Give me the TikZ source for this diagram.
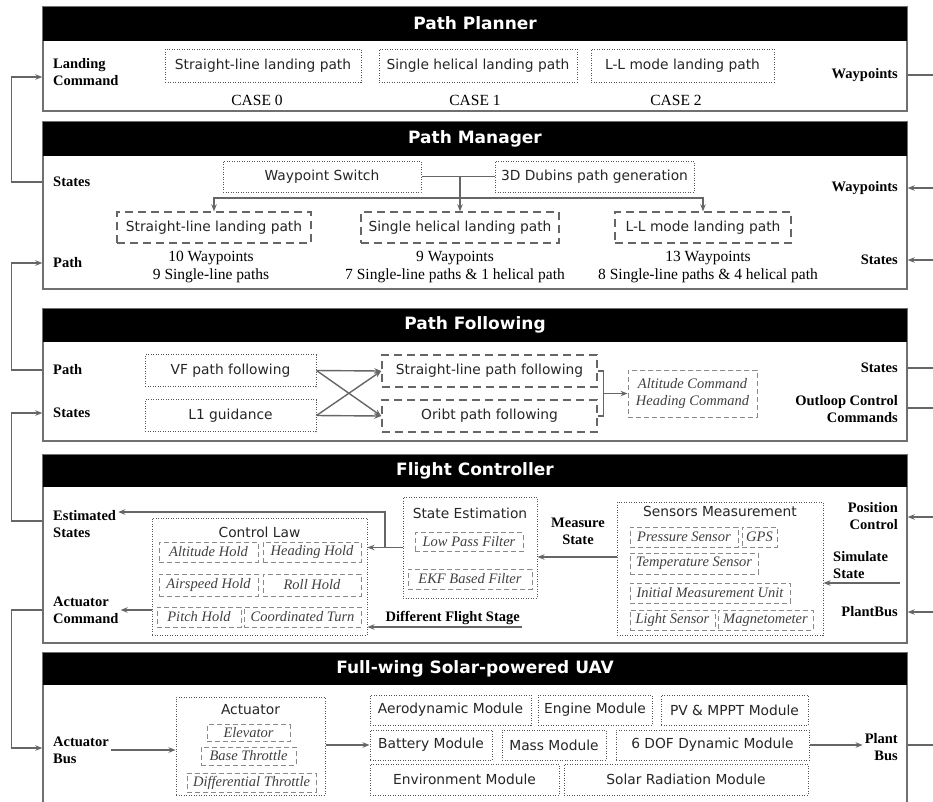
\documentclass[tikz,border=0pt]{standalone}
\usepackage{fontspec}
\usepackage{tikz}
\usetikzlibrary{arrows.meta}
\setmainfont{Liberation Serif}
\newfontfamily\sansf{DejaVu Sans}
\definecolor{framegray}{HTML}{707070}
\definecolor{conngray}{HTML}{666666}
\definecolor{dotgray}{HTML}{555555}
\definecolor{holdgray}{HTML}{8A8A8A}

\begin{document}
\begin{tikzpicture}[x=1pt,y=-1pt,>={Stealth[length=7pt,width=5.5pt]},
  panel/.style={draw=framegray,line width=1.4pt,inner sep=0pt,minimum width=864pt},
  bar/.style={fill=black,text=white,inner sep=0pt,minimum width=864pt,minimum height=34pt,font=\sansf\bfseries\fontsize{17}{20}\selectfont},
  dotbox/.style={draw=dotgray,line width=1pt,dash pattern=on 1pt off 1.5pt,inner sep=0pt,minimum height=31pt,text=black!85,font=\sansf\fontsize{13.8}{16}\selectfont},
  dashbox/.style={draw=conngray,line width=1.4pt,dash pattern=on 8pt off 5pt,inner sep=0pt,minimum height=31pt,text=black!85,font=\sansf\fontsize{13.8}{16}\selectfont},
  holdbox/.style={draw=holdgray,line width=1pt,dash pattern=on 5pt off 3pt,inner sep=0pt,minimum height=20pt,text=black!75,font=\itshape\fontsize{14.5}{17}\selectfont},
  boxtitle/.style={inner sep=0pt,text=black!85,font=\sansf\fontsize{13.8}{16}\selectfont},
  lbl/.style={inner sep=2pt,font=\bfseries\fontsize{14.5}{17}\selectfont},
  note/.style={inner sep=0pt,font=\fontsize{15.5}{18}\selectfont},
  conn/.style={draw=conngray,line width=1.4pt}]
\useasboundingbox (0,0) rectangle (933,801);
\clip (0,0) rectangle (933,801);

\node[panel,minimum height=104pt] (pp) at (475,59) {};
\node[bar,anchor=north] (pphead) at (pp.north) {Path Planner};
\node[lbl,anchor=west,align=left] (ppland) at (51,72.5) {Landing\\Command};
\node[lbl,anchor=east] (ppwp) at (900,75) {Waypoints};
\node[dotbox,minimum width=196pt,minimum height=33pt] (pp0) at (263,65.5) {Straight-line landing path};
\node[dotbox,minimum width=198pt,minimum height=33pt] (pp1) at (478,65.5) {Single helical landing path};
\node[dotbox,minimum width=183pt,minimum height=33pt] (pp2) at (682.5,65.5) {L-L mode landing path};
\node[note] (case0) at (257,100) {CASE 0};
\node[note] (case1) at (475,100) {CASE 1};
\node[note] (case2) at (676,100) {CASE 2};

\node[panel,minimum height=167pt] (pm) at (475,205.5) {};
\node[bar,anchor=north] (pmhead) at (pm.north) {Path Manager};
\node[lbl,anchor=west] (pmst) at (51,182) {States};
\node[lbl,anchor=west] (pmpath) at (51,263) {Path};
\node[lbl,anchor=east] (pmwp) at (900,188) {Waypoints};
\node[lbl,anchor=east] (pmst2) at (900,260) {States};
\node[dotbox,minimum width=198pt] (pmsw) at (322,176.5) {Waypoint Switch};
\node[dotbox,minimum width=199pt] (pmdub) at (594.5,176.5) {3D Dubins path generation};
\node[dashbox,minimum width=194pt] (pm0) at (214,227.5) {Straight-line landing path};
\node[dashbox,minimum width=198pt] (pm1) at (460,227.5) {Single helical landing path};
\node[dashbox,minimum width=176pt] (pm2) at (703,227.5) {L-L mode landing path};
\node[note,align=center] (pmn0) at (211,267) {10 Waypoints\\9 Single-line paths};
\node[note,align=center] (pmn1) at (455,267) {9 Waypoints\\7 Single-line paths \& 1 helical path};
\node[note,align=center] (pmn2) at (708,267) {13 Waypoints\\8 Single-line paths \& 4 helical path};
\coordinate (pmbus) at (pm1.north |- 0,198);
\draw[conn] (pmsw) -- (pmdub);
\draw[conn,->] (pmsw.east -| pm1.north) -- (pm1.north);
\draw[conn,->] (pmbus) -| (pm0.north);
\draw[conn,->] (pmbus) -| (pm2.north);

\node[panel,minimum height=132pt] (pf) at (475,375) {};
\node[bar,anchor=north,minimum height=33pt] (pfhead) at (pf.north) {Path Following};
\node[lbl,anchor=west] (pfpath) at (51,370) {Path};
\node[lbl,anchor=west] (pfst) at (51,413) {States};
\node[lbl,anchor=east] (pfst2) at (900,368) {States};
\node[lbl,anchor=east,align=right] (pfout) at (900,409) {Outloop Control\\Commands};
\node[dotbox,minimum width=171pt,minimum height=32pt] (pfvf) at (230.5,370.5) {VF path following};
\node[dotbox,minimum width=171pt,minimum height=32pt] (pfl1) at (230.5,415.5) {L1 guidance};
\node[dashbox,minimum width=215pt,minimum height=32pt] (pfsl) at (489.5,371) {Straight-line path following};
\node[dashbox,minimum width=215pt,minimum height=32pt] (pfob) at (489.5,416) {Oribt path following};
\node[holdbox,minimum width=129pt,minimum height=47pt,align=center] (pfcmd) at (692.5,393.5) {Altitude Command\\Heading Command};
\foreach \a in {pfvf,pfl1} \foreach \b in {pfsl,pfob} \draw[conn,->] (\a.east) -- (\b.west);
\coordinate (pfbr) at ([xshift=6pt]pfsl.east);
\draw[conn] (pfsl.east) -- (pfbr) |- (pfob.east);
\draw[conn,->] (pfbr |- pfcmd.west) -- (pfcmd.west);

\node[panel,minimum height=188pt] (fc) at (475,549) {};
\node[bar,anchor=north,minimum height=32pt] (fchead) at (fc.north) {Flight Controller};
\node[lbl,anchor=west,align=left] (fcest) at (51,524) {Estimated\\States};
\node[lbl,anchor=west,align=left] (fcact) at (51,610) {Actuator\\Command};
\node[dotbox,minimum width=215pt,minimum height=117pt] (fccl) at (259.5,576.5) {};
\node[boxtitle] (fccltitle) at (259.5,532) {Control Law};
\node[holdbox,minimum width=99pt] (fcalt) at (208.5,552) {Altitude Hold};
\node[holdbox,minimum width=98pt] (fchdg) at (312,552) {Heading Hold};
\node[holdbox,minimum width=99pt,minimum height=22pt] (fcasp) at (208.5,585) {Airspeed Hold};
\node[holdbox,minimum width=98pt,minimum height=22pt] (fcroll) at (312,585) {Roll Hold};
\node[holdbox,minimum width=84pt] (fcpitch) at (199,617) {Pitch Hold};
\node[holdbox,minimum width=117pt] (fccoord) at (302.5,617) {Coordinated Turn};
\node[dotbox,minimum width=134pt,minimum height=101pt] (fcse) at (470,547.5) {};
\node[boxtitle] (fcsetitle) at (470,513) {State Estimation};
\node[holdbox,minimum width=108pt,minimum height=19pt] (fclpf) at (469,542) {Low Pass Filter};
\node[holdbox,minimum width=124pt] (fcekf) at (470,579) {EKF Based Filter};
\node[lbl,align=center] (fcms) at (578,531.5) {Measure\\State};
\node[lbl,anchor=south east] (fcdfs) at (522,627) {Different Flight Stage};
\node[dotbox,minimum width=206pt,minimum height=133pt] (fcsm) at (720,568.5) {};
\node[boxtitle] (fcsmtitle) at (720,511) {Sensors Measurement};
\node[holdbox,minimum width=108pt] (fcpres) at (684,537) {Pressure Sensor};
\node[holdbox,minimum width=35pt] (fcgps) at (759.5,537) {GPS};
\node[holdbox,minimum width=128pt,minimum height=21pt] (fctemp) at (694,563.5) {Temperature Sensor};
\node[holdbox,minimum width=160pt] (fcimu) at (710,593) {Initial Measurement Unit};
\node[holdbox,minimum width=85pt] (fclight) at (672.5,620) {Light Sensor};
\node[holdbox,minimum width=95pt] (fcmag) at (765.5,620) {Magnetometer};
\node[lbl,anchor=east,align=right] (fcpos) at (900,516.5) {Position\\Control};
\node[lbl,anchor=west,align=left] (fcsim) at (831,565.5) {Simulate\\State};
\node[lbl,anchor=east] (fcpb) at (900,612) {PlantBus};
\draw[conn,->] (fcse.west) -- (fccl.east |- fcse.west);
\draw[conn,->] (fcse.west -| 385,0) |- (fcest.east |- 0,512);
\draw[conn,->] (fccl.west |- fcact.east) -- (fcact.east);
\draw[conn,->] (fcsm.west |- 0,557) -- (fcse.east |- 0,557);
\draw[conn,->] (fcdfs.south east) -- (fccl.east |- fcdfs.south east);
\coordinate (fcsimin) at (900,583);
\draw[conn,->] (fcsimin) -- (fcsm.east |- fcsimin);

\node[panel,minimum height=157pt] (uav) at (475,731.5) {};
\node[bar,anchor=north,minimum height=32pt] (uavhead) at (uav.north) {Full-wing Solar-powered UAV};
\node[lbl,anchor=west,align=left] (uavab) at (51,750) {Actuator\\Bus};
\node[dotbox,minimum width=149pt,minimum height=98pt] (uavact) at (250.5,746) {};
\node[boxtitle] (uavacttitle) at (250.5,710) {Actuator};
\node[holdbox,minimum width=83pt,minimum height=17pt] (uavelev) at (248.5,733) {Elevator};
\node[holdbox,minimum width=95pt,minimum height=18pt] (uavbase) at (248.5,756) {Base Throttle};
\node[holdbox,minimum width=129pt,minimum height=19pt] (uavdiff) at (251.5,782.5) {Differential Throttle};
\node[dotbox,minimum width=161pt,minimum height=30pt] (uavaero) at (450.5,710) {Aerodynamic Module};
\node[dotbox,minimum width=114pt,minimum height=30pt] (uaveng) at (595,710) {Engine Module};
\node[dotbox,minimum width=147pt,minimum height=30pt] (uavpv) at (734.5,710) {PV \& MPPT Module};
\node[dotbox,minimum width=122pt,minimum height=30pt] (uavbat) at (431,745) {Battery Module};
\node[dotbox,minimum width=104pt,minimum height=30pt] (uavmass) at (554,745) {Mass Module};
\node[dotbox,minimum width=193pt,minimum height=30pt] (uavdof) at (712.5,745) {6 DOF Dynamic Module};
\node[dotbox,minimum width=189pt,minimum height=31pt] (uavenv) at (464.5,779.5) {Environment Module};
\node[dotbox,minimum width=244pt,minimum height=31pt] (uavsol) at (686,779.5) {Solar Radiation Module};
\node[lbl,anchor=east,align=right] (uavpb) at (900,747.5) {Plant\\Bus};
\draw[conn,->] (uavab.east) -- (uavact.west |- uavab.east);
\draw[conn,->] (uavact.east |- uavbat.west) -- (uavbat.west);
\draw[conn,->] (uavdof.east) -- (uavpb.west |- uavdof.east);

\draw[conn,->] (pm.west |- pmst) -- ++(-31,0) |- (pp.west |- 0,77);
\draw[conn,->] (pf.west |- pfpath) -- ++(-31,0) |- (pm.west |- pmpath);
\draw[conn,->] (fc.west |- 0,521) -- ++(-31,0) |- (pf.west |- pfst);
\draw[conn,->] (fc.west |- 0,610) -- ++(-31,0) |- (uav.west |- 0,748);

\coordinate (ppout) at (933,75);
\coordinate (pmwpin) at (933,188);
\coordinate (pmstin) at (933,260);
\coordinate (pfstout) at (933,368);
\coordinate (pfcmdout) at (933,408);
\coordinate (fcposin) at (933,517);
\coordinate (fcpbin) at (933,612);
\coordinate (uavout) at (933,745);
\draw[conn] (pp.east |- ppout) -- (ppout);
\draw[conn,->] (pmwpin) -- (pm.east |- pmwpin);
\draw[conn,->] (pmstin) -- (pm.east |- pmstin);
\draw[conn] (pf.east |- pfstout) -- (pfstout);
\draw[conn] (pf.east |- pfcmdout) -- (pfcmdout);
\draw[conn,->] (fcposin) -- (fc.east |- fcposin);
\draw[conn,->] (fcpbin) -- (fc.east |- fcpbin);
\draw[conn] (uav.east |- uavout) -- (uavout);
\end{tikzpicture}
\end{document}
